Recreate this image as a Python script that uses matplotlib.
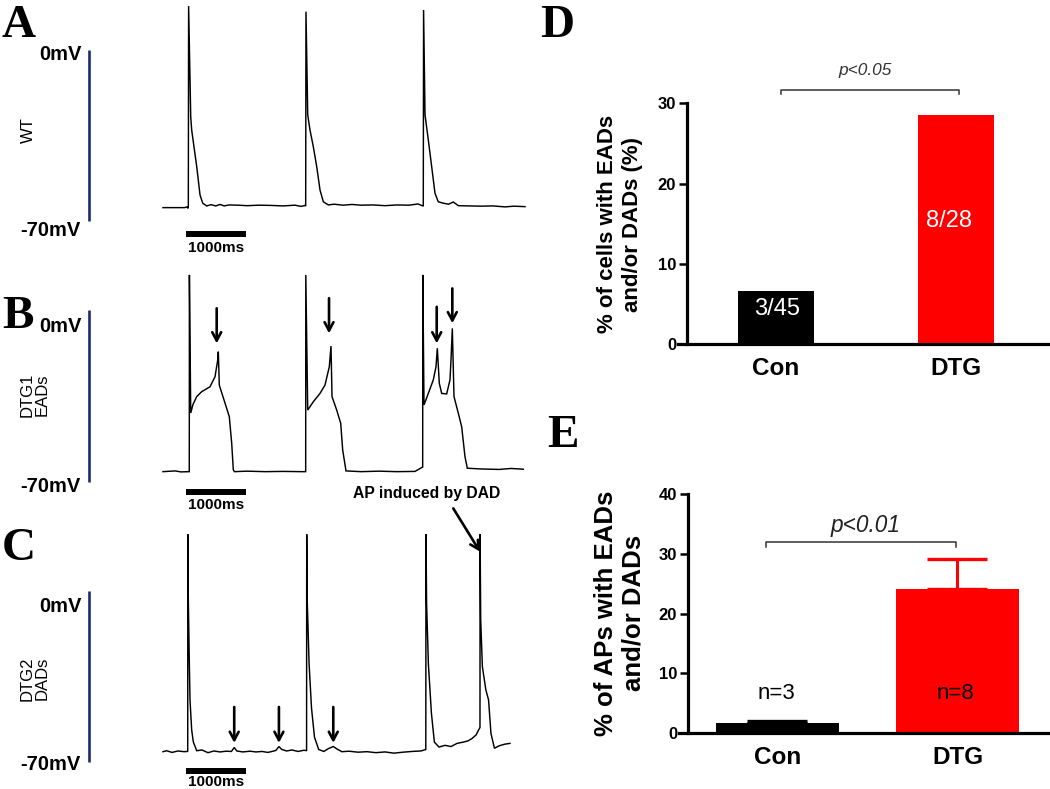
import matplotlib
matplotlib.use("Agg")
import matplotlib.pyplot as plt

W, H = 1050, 789
SANS = "Liberation Sans"
SERIF = "Liberation Serif"
plt.rcParams['font.family'] = [SANS, 'DejaVu Sans']

# ---------------- data ----------------
# Panel A: WT action potentials (time ms, membrane potential mV)
wt_t = [0, 360, 400, 415, 422, 427, 462, 478, 562, 617, 662, 728, 800, 880, 950, 1020, 1100,
        1250, 1400, 1600, 1800, 2000, 2200, 2300, 2370, 2378, 2383, 2412, 2450, 2505, 2562,
        2617, 2672, 2755, 2850, 3000, 3150, 3300, 3500, 3700, 3900, 4100, 4250, 4330, 4338,
        4343, 4367, 4422, 4478, 4533, 4588, 4672, 4760, 4838, 4922, 5100, 5300, 5500, 5700,
        5850, 6033]
wt_v = [-64.6, -64.6, -64.3, -64.9, -64.5, 18.0, -27.3, -32.8, -47.8, -59.4, -62.8, -63.9,
        -63.4, -63.9, -63.3, -63.9, -63.5, -63.6, -63.8, -63.6, -63.7, -63.9, -63.6, -64.1,
        -63.7, -64.0, 15.7, -26.6, -32.8, -39.6, -47.8, -57.4, -62.2, -63.5, -63.2, -63.6,
        -63.3, -63.6, -63.5, -63.8, -63.5, -63.6, -63.1, -63.9, -64.0, 16.4, -26.6, -36.9,
        -47.8, -58.7, -62.2, -62.8, -63.2, -62.3, -63.8, -63.9, -64.0, -63.9, -64.3, -64.0,
        -64.2]

# Panel B: DTG1 with EADs
dtg1_t = [0, 200, 300, 430, 438, 440, 462, 500, 562, 645, 783, 867, 912, 922, 938, 1033, 1105,
          1145, 1172, 1192, 1400, 1700, 2000, 2300, 2370, 2378, 2380, 2412, 2505, 2617, 2700,
          2772, 2800, 2817, 2895, 2962, 2995, 3050, 3300, 3600, 3900, 4200, 4300, 4326, 4328,
          4330, 4350, 4422, 4505, 4550, 4572, 4605, 4645, 4728, 4783, 4800, 4822, 4850, 4922,
          4978, 5033, 5072, 5300, 5600, 5800, 6005]
dtg1_v = [-65.9, -65.6, -66.0, -65.9, -65.9, 14.3, -42.0, -38.5, -35.3, -33.3, -31.3, -27.2,
          -20.4, -17.0, -30.6, -37.9, -43.5, -54.3, -65.2, -65.9, -65.7, -65.9, -65.8, -65.9,
          -65.9, -65.9, 14.3, -40.8, -37.4, -34.0, -30.6, -23.1, -14.7, -35.3, -40.8, -46.2,
          -57.1, -65.6, -65.9, -65.7, -65.9, -65.8, -64.4, -64.0, -64.0, 14.3, -38.7, -34.0,
          -28.5, -23.1, -15.6, -29.9, -34.0, -34.2, -28.5, -20.4, -7.5, -35.3, -42.1, -47.6,
          -59.8, -64.5, -64.8, -65.0, -64.6, -64.9]
ead_arrow_t = [895, 2767, 4562, 4822]
ead_arrow_top = [0.7, 4.8, 1.3, 8.8]
ead_arrow_tip = [-13.6, -9.5, -13.6, -5.4]

# Panel C: DTG2 with DADs
dtg2_t = [0, 60, 150, 250, 350, 405, 412, 414, 422, 438, 450, 478, 505, 562, 650, 750, 850,
          950, 1050, 1140, 1187, 1230, 1330, 1450, 1550, 1650, 1750, 1880, 1932, 1980, 2060,
          2150, 2250, 2350, 2393, 2395, 2405, 2435, 2475, 2525, 2595, 2680, 2760, 2838, 2900,
          2980, 3100, 3250, 3400, 3550, 3700, 3850, 4000, 4150, 4300, 4380, 4383, 4393, 4423,
          4473, 4523, 4600, 4700, 4800, 4900, 5000, 5080, 5150, 5220, 5260, 5283, 5285, 5295,
          5323, 5381, 5426, 5466, 5524, 5600, 5700, 5783]
dtg2_v = [-65.9, -65.5, -66.2, -65.6, -65.9, -65.8, -65.9, 23.1, -3.8, -28.4, -44.7, -57.0,
          -61.9, -65.5, -65.2, -66.3, -65.6, -66.0, -65.7, -65.8, -64.2, -65.6, -66.0, -65.7,
          -66.0, -65.8, -66.2, -65.4, -63.8, -65.0, -65.6, -65.2, -65.8, -65.3, -65.5, 23.1,
          -5.0, -30.0, -48.0, -60.0, -65.0, -65.8, -64.6, -63.8, -64.8, -65.9, -65.7, -66.1,
          -65.9, -66.3, -66.0, -66.5, -66.1, -65.8, -65.6, -65.0, 23.1, -5.0, -30.0, -50.0,
          -62.0, -64.0, -63.3, -63.8, -62.5, -62.0, -61.5, -60.5, -59.0, -57.0, -56.0, 23.1,
          -12.0, -31.1, -40.6, -44.7, -58.4, -64.5, -63.5, -62.8, -62.5]
dad_arrow_t = [1187, 1932, 2838]
dad_arrow_top = [-47.6, -47.6, -47.6]
dad_arrow_tip = [-62.3, -62.3, -62.3]
induced_arrow_start = (4838, 33.7)
induced_arrow_tip = (5283, 16.0)

scale_ms = 1000
scale_mv = (0, -70)

# Panel D
groups = ["Con", "DTG"]
pct_cells = [6.67, 28.57]
cell_counts = ["3/45", "8/28"]
# Panel E
pct_aps = [1.67, 24.1]
pct_aps_err = [0.4, 5.1]
n_labels = ["n=3", "n=8"]
bar_colors = ["#000000", "#ff0000"]

# ---------------- figure ----------------
fig = plt.figure(figsize=(W / 100, H / 100), dpi=100)


def add_ax_px(left, top, right, bottom):
    return fig.add_axes([left / W, 1 - bottom / H, (right - left) / W, (bottom - top) / H])


def ftext(x, y, s, **kw):
    fig.text(x / W, 1 - y / H, s, **kw)


X0, PXMS = 163.0, 0.06


def trace_axes(top, bottom, y0, pxmv):
    ax = add_ax_px(0, top, 535, bottom)
    ax.set_xlim((0 - X0) / PXMS, (535 - X0) / PXMS)
    ax.set_ylim(-(bottom - y0) / pxmv, -(top - y0) / pxmv)
    ax.axis('off')
    ax.patch.set_alpha(0)
    return ax


panels = [
    dict(top=0, bottom=262, y0=50.0, pxmv=2.44, t=wt_t, v=wt_v, label="WT",
         zero_y=-2.0, seventy_y=-73.8, bar_y=-75.5, bar_txt=-81.3, lab_y=-32.8),
    dict(top=262, bottom=500, y0=310.0, pxmv=2.453, t=dtg1_t, v=dtg1_v, label="DTG1\nEADs",
         zero_y=-6.8, seventy_y=-72.0, bar_y=-74.1, bar_txt=-79.5, lab_y=-34.7),
    dict(top=480, bottom=789, y0=590.7, pxmv=2.443, t=dtg2_t, v=dtg2_v, label="DTG2\nDADs",
         zero_y=-6.5, seventy_y=-71.3, bar_y=-73.7, bar_txt=-78.4, lab_y=-35.9),
]
axes_tr = []
for p in panels:
    ax = trace_axes(p['top'], p['bottom'], p['y0'], p['pxmv'])
    axes_tr.append(ax)
    ax.plot(p['t'], p['v'], color='black', lw=1.05, solid_joinstyle='miter')
    # voltage scale bar
    ax.plot([-1228, -1228], list(scale_mv), color='#1c2a6e', lw=1.9, solid_capstyle='butt')
    ax.text(-1350, p['zero_y'], "0mV", ha='right', va='center', fontsize=14.5,
            fontweight='bold')
    ax.text(-1367, p['seventy_y'], "-70mV", ha='right', va='center', fontsize=14.5,
            fontweight='bold')
    # time scale bar
    ax.plot([383, 383 + scale_ms], [p['bar_y'], p['bar_y']], color='black', lw=4.3,
            solid_capstyle='butt')
    ax.text(383 + scale_ms / 2, p['bar_txt'], "1000ms", ha='center', va='center',
            fontsize=11, fontweight='bold')
    lx = -2250 if "\n" not in p['label'] else -2140
    ax.text(lx, p['lab_y'], p['label'], rotation=90, ha='center', va='center',
            fontsize=12, linespacing=0.95)

arrow_kw = dict(arrowstyle='->,head_length=0.6,head_width=0.32', lw=1.9, color='black',
                shrinkA=0, shrinkB=0)
axB = axes_tr[1]
for t, y1, y2 in zip(ead_arrow_t, ead_arrow_top, ead_arrow_tip):
    axB.annotate("", xy=(t, y2), xytext=(t, y1), arrowprops=arrow_kw)
axC = axes_tr[2]
for t, y1, y2 in zip(dad_arrow_t, dad_arrow_top, dad_arrow_tip):
    axC.annotate("", xy=(t, y2), xytext=(t, y1), arrowprops=arrow_kw)
axC.annotate("", xy=induced_arrow_tip, xytext=induced_arrow_start, arrowprops=arrow_kw)
axC.text(4392, 39.6, "AP induced by DAD", ha='center', va='center', fontsize=11.3,
         fontweight='bold')

# panel letters
for s, x, y in [("A", 2, 37), ("B", 2, 328), ("C", 2, 560), ("D", 540, 37), ("E", 547, 447)]:
    ftext(x, y, s, fontfamily=SERIF, fontweight='bold', fontsize=34, ha='left',
          va='baseline')


def style_bar_axes(ax, ymax, step, spine_x):
    for sp in ['top', 'right']:
        ax.spines[sp].set_visible(False)
    for sp in ['left', 'bottom']:
        ax.spines[sp].set_linewidth(2.3)
    ax.spines['left'].set_position(('data', spine_x))
    ax.set_ylim(0, ymax)
    ax.set_yticks(range(0, ymax + 1, step))
    ax.tick_params(axis='y', length=6, width=1.8, pad=1.5, labelsize=12)
    ax.tick_params(axis='x', length=0, pad=9, labelsize=17.5)
    for lab in ax.get_yticklabels() + ax.get_xticklabels():
        lab.set_fontweight('bold')
    ax.patch.set_alpha(0)


# Panel D
axD = add_ax_px(678, 103.3, 1050, 344.3)
xpos = [0, 1]
axD.bar(xpos, pct_cells, width=0.422, color=bar_colors)
axD.set_xlim(-0.544, 1.522)
axD.set_xticks(xpos)
axD.set_xticklabels(groups)
style_bar_axes(axD, 30, 10, -0.496)
axD.text(0.004, 4.36, cell_counts[0], color='white', ha='center', va='center', fontsize=17)
axD.text(0.963, 15.4, cell_counts[1], color='white', ha='center', va='center', fontsize=17)
axD.plot([0.026, 0.026, 1.015, 1.015], [31.1, 31.7, 31.7, 31.1], color='#333333', lw=1.1,
         clip_on=False)
axD.text(0.494, 34.1, "p<0.05", style='italic', ha='center', va='center', fontsize=12.4,
         color='#333333')
ftext(620, 224, "% of cells with EADs\nand/or DADs (%)", rotation=90, ha='center',
      va='center', fontsize=16, fontweight='bold', linespacing=1.2)

# Panel E
axE = add_ax_px(679, 494, 1050, 733.3)
for x, m, e, c in zip(xpos, pct_aps, pct_aps_err, bar_colors):
    axE.errorbar([x], [m], yerr=[[0], [e]], color=c, elinewidth=2.2, capsize=21.6,
                 capthick=2.4, zorder=1)
axE.bar(xpos, pct_aps, width=0.683, color=bar_colors, zorder=2)
axE.set_xlim(-0.547, 1.514)
axE.set_xticks(xpos)
axE.set_xticklabels(groups)
style_bar_axes(axE, 40, 10, -0.499)
axE.text(-0.008, 6.57, n_labels[0], ha='center', va='center', fontsize=16, color='black')
axE.text(0.986, 6.57, n_labels[1], ha='center', va='center', fontsize=16, color='black',
         zorder=3)
axE.plot([-0.066, -0.066, 0.992, 0.992], [31.2, 31.9, 31.9, 31.2], color='#333333', lw=1.1,
         clip_on=False)
axE.text(0.492, 34.7, "p<0.01", style='italic', ha='center', va='center', fontsize=16.3,
         color='#222222')
ftext(620, 613, "% of APs with EADs\nand/or DADs", rotation=90, ha='center', va='center',
      fontsize=18.5, fontweight='bold', linespacing=1.2)

fig.savefig("out.png", dpi=100)
